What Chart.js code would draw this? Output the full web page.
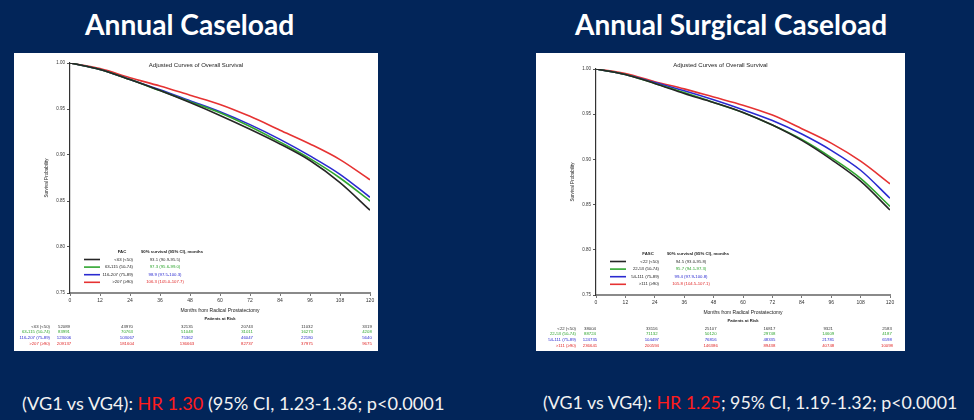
<!DOCTYPE html>
<html>
<head>
<meta charset="utf-8">
<script src="https://cdn.jsdelivr.net/npm/chart.js@4.4.1/dist/chart.umd.min.js"></script>
<style>
  body { margin: 0; width: 974px; height: 420px; background: #022559; position: relative; overflow: hidden; font-family: Lato, sans-serif; }
  .title { position: absolute; color: #fff; font-weight: bold; white-space: nowrap; line-height: 1; }
  .panel { position: absolute; background: #fff; }
  .foot { position: absolute; color: #f2f2f2; white-space: nowrap; line-height: 1; }
  .foot .hr { color: #ff1c1c; }
</style>
</head>
<body>
<div class="title" id="t1">Annual Caseload</div>
<div class="title" id="t2">Annual Surgical Caseload</div>
<div class="panel" style="left:14px;top:53px;width:364px;height:298px"><canvas id="c1" width="364" height="298"></canvas></div>
<div class="panel" style="left:536px;top:53px;width:369px;height:298px"><canvas id="c2" width="369" height="298"></canvas></div>
<div class="foot" id="f1">(VG1 vs VG4): <span class="hr">HR 1.30</span> (95% CI, 1.23-1.36; p&lt;0.0001</div>
<div class="foot" id="f2">(VG1 vs VG4): <span class="hr">HR 1.25</span>; 95% CI, 1.19-1.32; p&lt;0.0001</div>

<script>
// months on the x axis, and the months shown in the at-risk table
const months = [0, 12, 24, 36, 48, 60, 72, 84, 96, 108, 120];
const riskMonths = [0, 24, 48, 72, 96, 120];

// Annual caseload (FAC)
const facGroups = ['<63 (<50)', '63-115 (50-74)', '116-207 (75-89)', '>207 (\u226590)'];
const facSurv90 = ['93.1 (90.9-95.5)', '97.3 (95.6-99.0)', '98.9 (97.5-100.3)', '106.3 (105.0-107.7)'];
const facVg1 = [1.000, 0.993, 0.982, 0.970, 0.957, 0.943, 0.928, 0.912, 0.894, 0.870, 0.840];
const facVg2 = [1.000, 0.993, 0.982, 0.970, 0.958, 0.946, 0.931, 0.914, 0.896, 0.875, 0.850];
const facVg3 = [1.000, 0.993, 0.982, 0.971, 0.959, 0.947, 0.933, 0.917, 0.899, 0.879, 0.854];
const facVg4 = [1.000, 0.994, 0.984, 0.975, 0.965, 0.955, 0.942, 0.927, 0.912, 0.895, 0.873];
const facRisk1 = [52089, 43970, 32135, 20743, 11032, 3319];
const facRisk2 = [83991, 70763, 51048, 31011, 16273, 4208];
const facRisk3 = [123006, 103067, 75362, 46047, 22180, 5640];
const facRisk4 = [209137, 181604, 136663, 82737, 37975, 9675];

// Annual surgical caseload (FASC)
const fascGroups = ['<22 (<50)', '22-53 (50-74)', '54-111 (75-89)', '>111 (\u226590)'];
const fascSurv90 = ['94.5 (93.0-95.8)', '95.7 (94.1-97.3)', '99.4 (97.9-100.8)', '105.8 (104.5-107.1)'];
const fascVg1 = [1.000, 0.994, 0.984, 0.973, 0.963, 0.952, 0.938, 0.921, 0.900, 0.876, 0.844];
const fascVg2 = [1.000, 0.994, 0.984, 0.974, 0.963, 0.952, 0.938, 0.922, 0.902, 0.879, 0.848];
const fascVg3 = [1.000, 0.994, 0.985, 0.976, 0.966, 0.955, 0.943, 0.928, 0.910, 0.888, 0.857];
const fascVg4 = [1.000, 0.995, 0.986, 0.978, 0.969, 0.960, 0.949, 0.934, 0.918, 0.898, 0.873];
const fascRisk1 = [38004, 33116, 25107, 16817, 9321, 2583];
const fascRisk2 = [88724, 71132, 50120, 29748, 14609, 4187];
const fascRisk3 = [124735, 104497, 76816, 48335, 21781, 6598];
const fascRisk4 = [236641, 200594, 146386, 89438, 40748, 10098];

const lineColors = ['#262626', '#2fa52f', '#2a2ad0', '#e63232'];
const textColors = ['#333333', '#2fa52f', '#2a2ad0', '#e02626'];
const FONT = '"Liberation Sans", Arial, sans-serif';

// titles and footers are sized to the width they take in the slide
function fit(id, x, cy, width, centered) {
  const el = document.getElementById(id);
  el.style.fontSize = '20px';
  el.style.fontSize = (20 * width / el.offsetWidth) + 'px';
  el.style.left = (centered ? x - width / 2 : x) + 'px';
  el.style.top = (cy - el.offsetHeight / 2) + 'px';
}
fit('t1', 190, 24, 210, true);
fit('t2', 731, 24, 312, true);
fit('f1', 22, 403, 423, false);
fit('f2', 543, 403, 415, false);

// title, axis titles, inner legend and the patients-at-risk table
const extras = {
  id: 'extras',
  afterDraw(chart, args, o) {
    const { ctx, chartArea: a } = chart;
    const x = chart.scales.x;
    const mid = (a.left + a.right) / 2;
    ctx.save();
    ctx.textBaseline = 'middle';
    ctx.textAlign = 'center';
    ctx.fillStyle = '#222';
    ctx.font = '6px ' + FONT;
    ctx.fillText('Adjusted Curves of Overall Survival', chart.width / 2, 12);

    ctx.save();
    ctx.translate(a.left - 23, (a.top + a.bottom) / 2);
    ctx.rotate(-Math.PI / 2);
    ctx.font = '4.6px ' + FONT;
    ctx.fillText('Survival Probability', 0, 0);
    ctx.restore();

    ctx.font = '5px ' + FONT;
    ctx.fillText('Months from Radical Prostatectomy', mid, a.bottom + 18);
    ctx.font = 'bold 4.2px ' + FONT;
    ctx.fillText('Patients at Risk', mid, a.bottom + 26);

    // legend inside the plot
    ctx.font = 'bold 4.3px ' + FONT;
    ctx.fillText(o.header, a.left + 52, a.bottom - 41);
    ctx.fillText('90% survival (95% CI), months', a.left + 102, a.bottom - 41);
    ctx.font = '4.3px ' + FONT;
    o.groups.forEach((g, i) => {
      const y = a.bottom - 33.5 + i * 7.6;
      ctx.strokeStyle = lineColors[i];
      ctx.lineWidth = 1.6;
      ctx.beginPath();
      ctx.moveTo(a.left + 14, y);
      ctx.lineTo(a.left + 30, y);
      ctx.stroke();
      ctx.fillStyle = '#222';
      ctx.textAlign = 'right';
      ctx.fillText(g, a.left + 63, y);
      ctx.fillStyle = textColors[i];
      ctx.textAlign = 'center';
      ctx.fillText(o.surv[i], a.left + 95, y);
    });

    // patients at risk
    o.groups.forEach((g, i) => {
      const y = a.bottom + 33.5 + i * 5.8;
      ctx.fillStyle = i === 0 ? '#333' : textColors[i];
      ctx.textAlign = 'right';
      ctx.fillText(g, a.left - 20, y);
      ctx.textAlign = 'center';
      o.risk[i].forEach((n, j) => {
        ctx.fillText(n, x.getPixelForValue(riskMonths[j]) - (j ? 3 : 6), y);
      });
    });
    ctx.restore();
  }
};

function makeChart(id, series, extra, axisLeft, axisTop, axisBottom, padRight) {
  return new Chart(document.getElementById(id), {
    type: 'line',
    data: {
      datasets: series.map((s, i) => ({
        data: months.map((m, k) => ({ x: m, y: s[k] })),
        borderColor: lineColors[i],
        borderWidth: 1.6,
        pointRadius: 0,
        cubicInterpolationMode: 'monotone'
      }))
    },
    options: {
      responsive: false,
      animation: false,
      layout: { padding: { left: 0, top: axisTop, right: padRight, bottom: 0 } },
      scales: {
        x: {
          type: 'linear', min: 0, max: 120,
          afterFit: s => { s.height = axisBottom; },
          ticks: { stepSize: 12, color: '#333', font: { size: 5, family: FONT }, padding: 2, maxRotation: 0 },
          grid: { drawOnChartArea: false, tickLength: 3, color: '#777' },
          border: { color: '#8a8a8a', width: 2 }
        },
        y: {
          min: 0.75, max: 1.0,
          afterFit: s => { s.width = axisLeft; },
          ticks: { stepSize: 0.05, color: '#333', font: { size: 4.5, family: FONT }, padding: 2, callback: v => v.toFixed(2) },
          grid: { drawOnChartArea: false, tickLength: 3, color: '#555' },
          border: { color: '#333', width: 1.2 }
        }
      },
      plugins: { legend: { display: false }, tooltip: { enabled: false }, extras: extra }
    },
    plugins: [extras]
  });
}

makeChart('c1', [facVg1, facVg2, facVg3, facVg4],
  { header: 'FAC', groups: facGroups, surv: facSurv90, risk: [facRisk1, facRisk2, facRisk3, facRisk4] },
  56, 10, 58, 8);
makeChart('c2', [fascVg1, fascVg2, fascVg3, fascVg4],
  { header: 'FASC', groups: fascGroups, surv: fascSurv90, risk: [fascRisk1, fascRisk2, fascRisk3, fascRisk4] },
  60, 16, 56, 15);
</script>
</body>
</html>
